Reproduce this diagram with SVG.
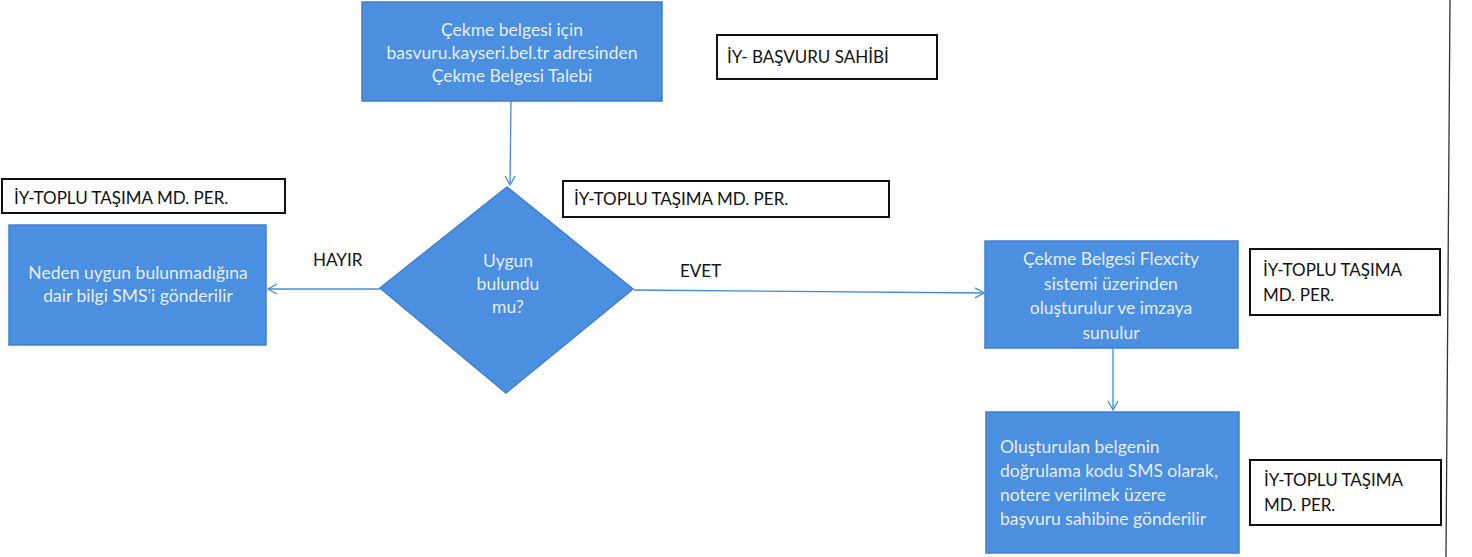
<svg xmlns="http://www.w3.org/2000/svg" width="1472" height="557" viewBox="0 0 1472 557">
<style>
.n{fill:#4a8fe0;stroke:#3f80d0;stroke-width:1.5}
.t{font-family:Lato,"Open Sans","Liberation Sans",sans-serif;font-size:17.5px;fill:#e6eefa}
.c{text-anchor:middle}
.lb{fill:#fff;stroke:#111;stroke-width:2}
.k{font-family:Lato,"Open Sans","Liberation Sans",sans-serif;font-size:17px;fill:#111}
.e{stroke:#3d8fd8;stroke-width:1.3;fill:none}
</style>
<defs>
<marker id="ah" markerWidth="12" markerHeight="12" refX="10" refY="6" orient="auto" markerUnits="userSpaceOnUse">
<path d="M1,1 L10,6 L1,11" fill="none" stroke="#3d8fd8" stroke-width="1.3"/>
</marker>
</defs>
<rect width="1472" height="557" fill="#fff"/>
<line x1="1450" y1="0" x2="1446" y2="557" stroke="#333" stroke-width="1.3"/>
<g id="connectors">
<line class="e" x1="511" y1="101" x2="510" y2="185" marker-end="url(#ah)"/>
<line class="e" x1="380" y1="289" x2="268" y2="289" marker-end="url(#ah)"/>
<line class="e" x1="634" y1="290" x2="984" y2="293" marker-end="url(#ah)"/>
<line class="e" x1="1113" y1="348" x2="1113" y2="410" marker-end="url(#ah)"/>
<text class="k" x="313" y="266">HAYIR</text>
<text class="k" x="680" y="277">EVET</text>
</g>
<g id="start">
<rect class="n" x="362" y="2" width="300" height="99"/>
<text class="t c" x="512" y="36">Çekme belgesi için</text>
<text class="t c" x="512" y="59">basvuru.kayseri.bel.tr adresinden</text>
<text class="t c" x="512" y="82">Çekme Belgesi Talebi</text>
</g>
<g id="label-basvuru">
<rect class="lb" x="717" y="35" width="220" height="44"/>
<text class="k" x="727" y="63">İY- BAŞVURU SAHİBİ</text>
</g>
<g id="decision">
<polygon class="n" points="507,187 633,289 506,393 380,288"/>
<text class="t c" x="508" y="267">Uygun</text>
<text class="t c" x="508" y="290">bulundu</text>
<text class="t c" x="508" y="313">mu?</text>
</g>
<g id="label-left">
<rect class="lb" x="2" y="179" width="283" height="34"/>
<text class="k" x="14" y="204">İY-TOPLU TAŞIMA MD. PER.</text>
</g>
<g id="reject">
<rect class="n" x="9" y="225" width="257" height="120"/>
<text class="t c" x="138" y="279">Neden uygun bulunmadığına</text>
<text class="t c" x="138" y="302">dair bilgi SMS'i gönderilir</text>
</g>
<g id="label-mid">
<rect class="lb" x="563" y="181" width="326" height="36"/>
<text class="k" x="574" y="205">İY-TOPLU TAŞIMA MD. PER.</text>
</g>
<g id="create">
<rect class="n" x="985" y="241" width="253" height="107"/>
<text class="t c" x="1111" y="265">Çekme Belgesi Flexcity</text>
<text class="t c" x="1111" y="290">sistemi üzerinden</text>
<text class="t c" x="1111" y="314">oluşturulur ve imzaya</text>
<text class="t c" x="1111" y="339">sunulur</text>
</g>
<g id="label-right1">
<rect class="lb" x="1250" y="249" width="190" height="66"/>
<text class="k" x="1263" y="276">İY-TOPLU TAŞIMA</text>
<text class="k" x="1263" y="301">MD. PER.</text>
</g>
<g id="send">
<rect class="n" x="986" y="412" width="253" height="141"/>
<text class="t" x="1000" y="453">Oluşturulan belgenin</text>
<text class="t" x="1000" y="477">doğrulama kodu SMS olarak,</text>
<text class="t" x="1000" y="501">notere verilmek üzere</text>
<text class="t" x="1000" y="525">başvuru sahibine gönderilir</text>
</g>
<g id="label-right2">
<rect class="lb" x="1250" y="460" width="191" height="65"/>
<text class="k" x="1264" y="486">İY-TOPLU TAŞIMA</text>
<text class="k" x="1264" y="511">MD. PER.</text>
</g>
</svg>
